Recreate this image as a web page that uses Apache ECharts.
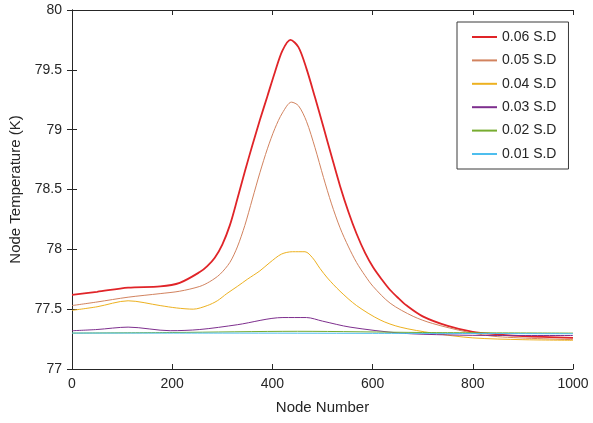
<!DOCTYPE html>
<html>
<head>
<meta charset="utf-8">
<script src="https://cdn.jsdelivr.net/npm/echarts@6/dist/echarts.min.js"></script>
<style>
html,body{margin:0;padding:0;background:#fff;}
#c{width:593px;height:423px;}
</style>
</head>
<body>
<div id="c"></div>
<script>
var seriesNames = ['0.06 S.D', '0.05 S.D', '0.04 S.D', '0.03 S.D', '0.02 S.D', '0.01 S.D'];
var xTicks = [0, 200, 400, 600, 800, 1000];
var yTicks = [77, 77.5, 78, 78.5, 79, 79.5, 80];

var nodes006 = [0, 50, 112, 176, 215, 255, 270, 285, 300, 315, 330, 345, 360, 375, 390, 405, 420, 436, 452, 468, 485, 502, 518, 535, 552, 568, 585, 601, 618, 635, 652, 668, 700, 750, 800, 850, 900, 1000];
var temp006  = [77.62, 77.645, 77.68, 77.69, 77.72, 77.81, 77.86, 77.93, 78.04, 78.20, 78.42, 78.65, 78.87, 79.08, 79.28, 79.48, 79.66, 79.75, 79.69, 79.51, 79.27, 79.02, 78.78, 78.53, 78.31, 78.13, 77.97, 77.85, 77.75, 77.66, 77.59, 77.53, 77.44, 77.36, 77.31, 77.29, 77.275, 77.26];

var nodes005 = [0, 50, 112, 176, 215, 255, 275, 295, 315, 330, 345, 360, 375, 390, 405, 420, 438, 452, 468, 485, 502, 518, 535, 552, 568, 585, 601, 635, 681, 720, 788, 850, 1000];
var temp005  = [77.53, 77.56, 77.60, 77.63, 77.65, 77.69, 77.73, 77.79, 77.89, 78.02, 78.20, 78.42, 78.64, 78.84, 79.01, 79.14, 79.23, 79.20, 79.07, 78.85, 78.60, 78.38, 78.18, 78.02, 77.89, 77.78, 77.69, 77.55, 77.44, 77.38, 77.31, 77.27, 77.245];

var nodes004 = [0, 50, 112, 176, 209, 242, 270, 290, 309, 330, 350, 375, 395, 418, 440, 465, 480, 495, 510, 535, 568, 615, 655, 720, 800, 900, 1000];
var temp004  = [77.49, 77.52, 77.57, 77.53, 77.51, 77.50, 77.53, 77.57, 77.63, 77.69, 77.75, 77.82, 77.89, 77.96, 77.98, 77.98, 77.93, 77.84, 77.76, 77.65, 77.53, 77.41, 77.35, 77.30, 77.26, 77.245, 77.24];

var nodes003 = [0, 50, 112, 196, 255, 330, 421, 468, 500, 555, 655, 750, 850, 1000];
var temp003  = [77.32, 77.33, 77.35, 77.32, 77.33, 77.37, 77.43, 77.43, 77.40, 77.35, 77.30, 77.285, 77.28, 77.28];

var nodes002 = [0, 200, 450, 700, 1000];
var temp002  = [77.30, 77.305, 77.315, 77.305, 77.30];

var nodes001 = [0, 300, 600, 1000];
var temp001  = [77.30, 77.30, 77.298, 77.295];

var colors = ['#e02428', '#d2835f', '#edb120', '#7e2f8e', '#77ac30', '#4dbeee'];
var widths = [1.8, 1, 1, 1, 1, 1];
var allX = [nodes006, nodes005, nodes004, nodes003, nodes002, nodes001];
var allY = [temp006, temp005, temp004, temp003, temp002, temp001];

function pairs(xs, ys) { return xs.map(function (x, i) { return [x, ys[i]]; }); }

var txt = '#262626';
var font = 'Liberation Sans, Arial, sans-serif';
var series = seriesNames.map(function (n, i) {
  return {
    name: n, type: 'line', xAxisIndex: 0, yAxisIndex: 0,
    data: pairs(allX[i], allY[i]),
    smooth: 0.3, symbol: 'none', showSymbol: false,
    lineStyle: { color: colors[i], width: widths[i] },
    itemStyle: { color: colors[i] },
    z: 2
  };
});

var chart = echarts.init(document.getElementById('c'), null, { renderer: 'canvas' });
chart.setOption({
  animation: false,
  backgroundColor: '#fff',
  textStyle: { fontFamily: font },
  grid: { left: 72, right: 20, top: 10, bottom: 54, containLabel: false },
  legend: {
    data: seriesNames,
    orient: 'vertical',
    left: 457, top: 22,
    padding: [8, 12, 8, 14],
    itemWidth: 25, itemHeight: 14, itemGap: 9.4,
    itemStyle: { opacity: 0 },
    backgroundColor: '#fff',
    borderColor: '#3a3a3a', borderWidth: 1,
    textStyle: { color: txt, fontSize: 14, fontFamily: font }
  },
  xAxis: [{
    type: 'value', min: xTicks[0], max: xTicks[xTicks.length - 1], interval: 200,
    name: 'Node Number', nameLocation: 'middle', nameGap: 31,
    nameTextStyle: { color: txt, fontSize: 15, fontFamily: font },
    axisLine: { show: true, lineStyle: { color: txt, width: 1 } },
    axisTick: { show: true, inside: true, length: 5, lineStyle: { color: txt } },
    axisLabel: { color: txt, fontSize: 14, margin: 8, fontFamily: font, formatter: function (v) { return String(v); } },
    splitLine: { show: false }
  }, {
    type: 'value', position: 'top', min: xTicks[0], max: xTicks[xTicks.length - 1], interval: 200,
    axisLine: { show: true, lineStyle: { color: txt, width: 1 } },
    axisTick: { show: true, inside: true, length: 5, lineStyle: { color: txt } },
    axisLabel: { show: false }, splitLine: { show: false }
  }],
  yAxis: [{
    type: 'value', min: yTicks[0], max: yTicks[yTicks.length - 1], interval: 0.5,
    name: 'Node Temperature (K)', nameLocation: 'middle', nameGap: 29, nameRotate: 90,
    nameTextStyle: { color: txt, fontSize: 15, fontFamily: font },
    axisLine: { show: true, lineStyle: { color: txt, width: 1 } },
    axisTick: { show: true, inside: true, length: 5, lineStyle: { color: txt } },
    axisLabel: { color: txt, fontSize: 14, margin: 10, fontFamily: font },
    splitLine: { show: false }
  }, {
    type: 'value', position: 'right', min: yTicks[0], max: yTicks[yTicks.length - 1], interval: 0.5,
    axisLine: { show: true, lineStyle: { color: txt, width: 1 } },
    axisTick: { show: true, inside: true, length: 5, lineStyle: { color: txt } },
    axisLabel: { show: false }, splitLine: { show: false }
  }],
  series: series
});
</script>
</body>
</html>
